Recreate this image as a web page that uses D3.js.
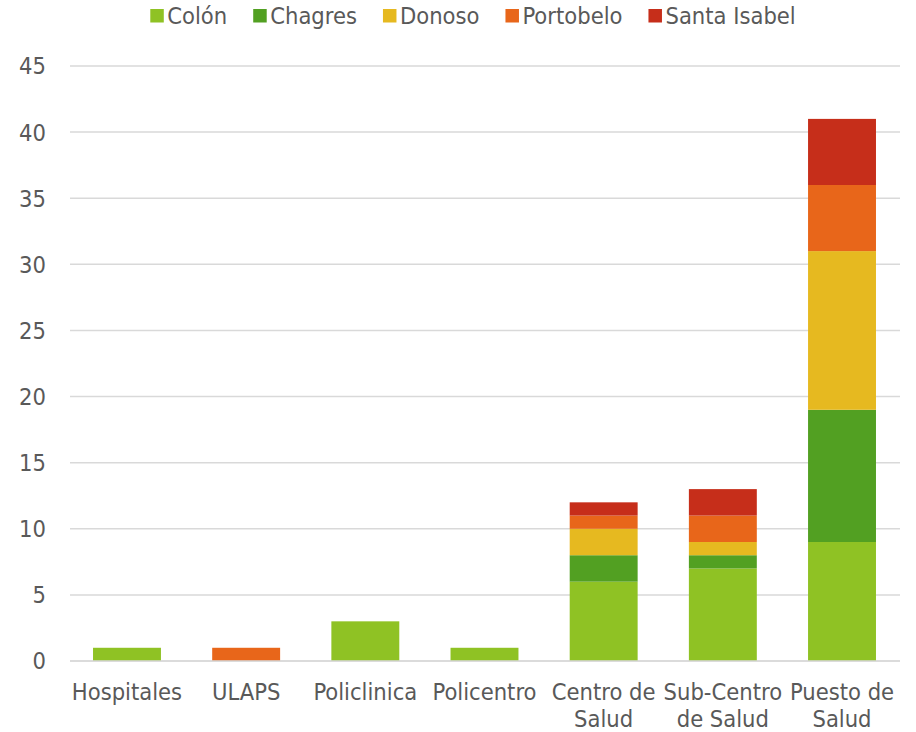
<!DOCTYPE html>
<html>
<head>
<meta charset="utf-8">
<script src="https://cdn.jsdelivr.net/npm/d3@7"></script>
<style>
  body { margin: 0; background: #fff; }
  svg text { font-family: "DejaVu Sans Condensed", "DejaVu Sans", sans-serif; fill: #595959; }
</style>
</head>
<body>
<div id="chart"></div>
<script>
const categories = [`Hospitales`, `ULAPS`, `Policlinica`, `Policentro`, `Centro de|Salud`, `Sub-Centro|de Salud`, `Puesto de|Salud`];
const seriesNames = [`Colón`, `Chagres`, `Donoso`, `Portobelo`, `Santa Isabel`];
const colon = [1, 0, 3, 1, 6, 7, 9];
const chagres = [0, 0, 0, 0, 2, 1, 10];
const donoso = [0, 0, 0, 0, 2, 1, 12];
const portobelo = [0, 1, 0, 0, 1, 2, 5];
const santaIsabel = [0, 0, 0, 0, 1, 2, 5];
const yTicks = [0, 5, 10, 15, 20, 25, 30, 35, 40, 45];
const colors = [`#8FC224`, `#52A022`, `#E6B920`, `#E8661A`, `#C62E1A`];

const width = 916, height = 732;
const gridLeft = 70, gridRight = 900;
const fontSize = `23.5px`;

const rows = categories.map((c, i) => ({
  cat: c,
  [seriesNames[0]]: colon[i],
  [seriesNames[1]]: chagres[i],
  [seriesNames[2]]: donoso[i],
  [seriesNames[3]]: portobelo[i],
  [seriesNames[4]]: santaIsabel[i]
}));

const svg = d3.select(`#chart`).append(`svg`)
  .attr(`width`, width)
  .attr(`height`, height);

const x = d3.scaleBand()
  .domain(categories)
  .range([67.4, 901.6])
  .paddingInner(0.43)
  .paddingOuter(0.215);

const y = d3.scaleLinear()
  .domain([0, 45])
  .range([661, 66]);

const color = d3.scaleOrdinal().domain(seriesNames).range(colors);

// gridlines
svg.append(`g`).selectAll(`line`)
  .data(yTicks)
  .enter().append(`line`)
    .attr(`x1`, gridLeft)
    .attr(`x2`, gridRight)
    .attr(`y1`, (d) => y(d))
    .attr(`y2`, (d) => y(d))
    .attr(`stroke`, `#d9d9d9`)
    .attr(`stroke-width`, 1.5);

// y labels
svg.append(`g`).selectAll(`text`)
  .data(yTicks)
  .enter().append(`text`)
    .attr(`x`, 46)
    .attr(`y`, (d) => y(d))
    .attr(`dy`, `0.36em`)
    .attr(`text-anchor`, `end`)
    .style(`font-size`, fontSize)
    .text((d) => d);

// stacked bars
const layers = d3.stack().keys(seriesNames)(rows);

svg.append(`g`).selectAll(`g`)
  .data(layers)
  .enter().append(`g`)
    .attr(`fill`, (d) => color(d.key))
  .selectAll(`rect`)
  .data((d) => d.filter((p) => p[1] - p[0] > 0))
  .enter().append(`rect`)
    .attr(`x`, (d) => x(d.data.cat))
    .attr(`width`, x.bandwidth())
    .attr(`y`, (d) => y(d[1]))
    .attr(`height`, (d) => y(d[0]) - y(d[1]));

// baseline over bars
svg.append(`line`)
  .attr(`x1`, gridLeft)
  .attr(`x2`, gridRight)
  .attr(`y1`, y(0))
  .attr(`y2`, y(0))
  .attr(`stroke`, `#d9d9d9`)
  .attr(`stroke-width`, 1.5);

// x labels
const xl = svg.append(`g`).selectAll(`text`)
  .data(categories)
  .enter().append(`text`)
    .attr(`x`, (d) => x(d) + x.bandwidth() / 2)
    .attr(`y`, 700)
    .attr(`text-anchor`, `middle`)
    .style(`font-size`, fontSize);

xl.selectAll(`tspan`)
  .data((d) => d.split(`|`))
  .enter().append(`tspan`)
    .attr(`x`, function() { return d3.select(this.parentNode).attr(`x`); })
    .attr(`dy`, (d, i) => i === 0 ? 0 : 27)
    .text((d) => d);

// legend
const legend = svg.append(`g`);
const legendGap = 26;
let lx = 0;
seriesNames.forEach((name) => {
  const item = legend.append(`g`).attr(`transform`, `translate(${lx},0)`);
  item.append(`rect`)
    .attr(`x`, 0).attr(`y`, 9)
    .attr(`width`, 13.5).attr(`height`, 13.5)
    .attr(`fill`, color(name));
  const t = item.append(`text`)
    .attr(`x`, 17).attr(`y`, 24)
    .style(`font-size`, fontSize)
    .text(name);
  lx += 17 + t.node().getComputedTextLength() + legendGap;
});
const legendWidth = lx - legendGap;
legend.attr(`transform`, `translate(${(148 + 798) / 2 - legendWidth / 2},0)`);
</script>
</body>
</html>
